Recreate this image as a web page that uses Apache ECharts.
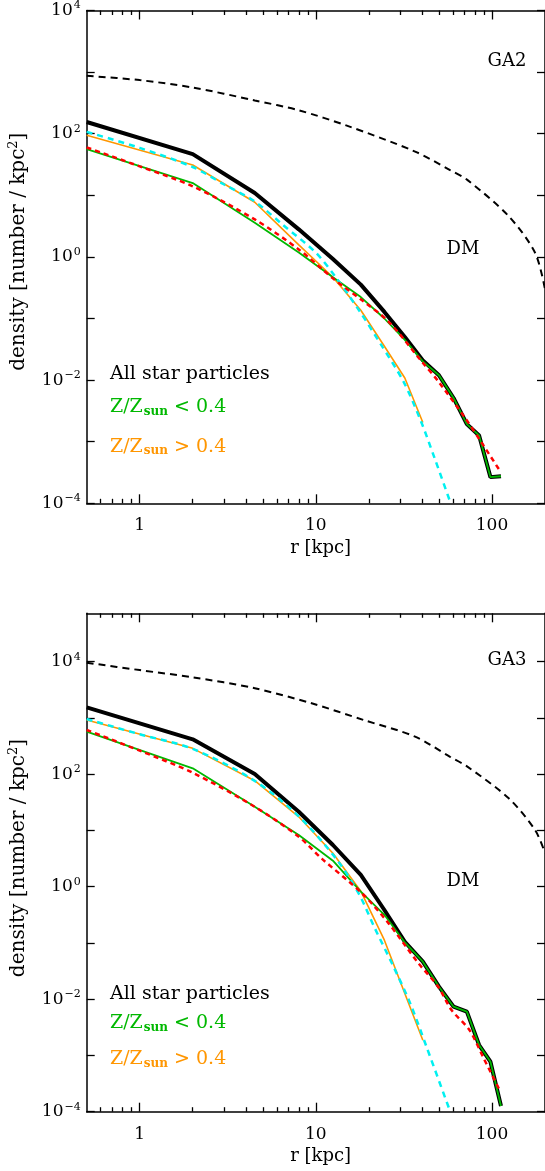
<!DOCTYPE html>
<html><head><meta charset="utf-8">
<script src="https://cdn.jsdelivr.net/npm/echarts@6/dist/echarts.min.js"></script>
<style>html,body{margin:0;padding:0;background:#fff}#c{width:545px;height:1171px}</style>
</head><body><div id="c"></div>
<script>
// ---------- data (r in kpc, density in number / kpc^2) ----------
const rBins = [0.5, 2, 4.5, 8, 12.5, 18, 24.5, 32, 40.5, 50, 60.5, 72, 84.5, 98, 112.5];
const xTickValues = [1, 10, 100];
const yTickExps = [-4, -2, 0, 2, 4];

// GA2
const ga2All  = [155, 46.7, 10.9, 2.80, 0.923, 0.355, 0.128, 0.0501, 0.0209, 0.0120, 0.00513, 0.00193, 0.00126, 0.000266, 0.000275];
const ga2Low  = [56.1, 15.8, 3.59, 1.18, 0.468, 0.223, 0.100, 0.0450, 0.0201, 0.0120, 0.00513, 0.00193, 0.00126, 0.000266, 0.000275];
const ga2High = [94.2, 31.0, 7.71, 1.57, 0.468, 0.136, 0.0355, 0.0108, 0.00205];
const ga2CyanR = [0.5, 1, 2, 3, 4.5, 6.5, 10, 13.2, 17.8, 23.4, 31.4, 39.4, 47.4, 57.8];
const ga2CyanD = [107, 58.9, 28.8, 15.1, 7.94, 3.31, 1.17, 0.437, 0.129, 0.0380, 0.00955, 0.00219, 0.000525, 0.000107];
const ga2RedR = [0.5, 1, 2, 4.5, 8, 12.6, 18.3, 25.9, 39.9, 49.5, 70.1, 87.1, 110.5];
const ga2RedD = [59.8, 29.5, 14.0, 4.06, 1.32, 0.440, 0.197, 0.0885, 0.0201, 0.00959, 0.00247, 0.000977, 0.000343];
const ga2DmR = [0.5, 1, 2, 4.5, 8, 15, 36.6, 57.8, 72.4, 124.5, 175.6, 200];
const ga2DmD = [871, 741, 562, 347, 240, 135, 51.3, 25.7, 17.8, 4.57, 1.17, 0.30];

// GA3
const ga3All  = [1545, 417, 101, 21.5, 5.51, 1.62, 0.385, 0.105, 0.0465, 0.0167, 0.00736, 0.00600, 0.00153, 0.000774, 0.000126];
const ga3Low  = [570, 127, 26.4, 8.30, 2.90, 0.815, 0.316, 0.102, 0.0465, 0.0167, 0.00736, 0.00600, 0.00153, 0.000774, 0.000126];
const ga3High = [920, 288, 76.6, 17.5, 3.92, 0.832, 0.112, 0.0126, 0.00186];
const ga3CyanR = [0.5, 1, 2, 4.5, 8, 13.2, 17.5, 21.7, 27.6, 34.3, 42.4, 57.5];
const ga3CyanD = [955, 513, 282, 75.9, 17.8, 2.99, 0.759, 0.178, 0.0380, 0.00851, 0.00145, 0.000107];
const ga3RedR = [0.5, 1, 2, 4.5, 8, 10.8, 18.3, 25.9, 38.2, 49.5, 58.9, 74.5, 90.7, 110.5];
const ga3RedD = [611, 262, 106, 26.3, 7.74, 3.16, 0.762, 0.223, 0.0435, 0.0167, 0.00641, 0.00283, 0.000830, 0.000243];
const ga3DmR = [0.5, 1, 2, 4.5, 9.46, 18.7, 36.6, 57.8, 72.5, 124.5, 175.6, 200];
const ga3DmD = [9600, 7080, 5280, 3370, 1820, 918, 465, 204, 136, 37.2, 10.2, 3.98];

const panelNames = ['GA2', 'GA3'];
const legendAll = 'All star particles';

// ---------- build ----------
const L = Math.log10;
const pts = (rs, ds) => ds.map((d, i) => [L(rs[i]), L(d)]);
const FONT = 'DejaVu Serif';
const GREEN = '#00b800', ORANGE = '#ff9600', CYAN = '#00f0f0', RED = '#ff0000';

const panels = [
  { top: 5.7, bottom: 667.7, ymax: 4,
    all: ga2All, low: ga2Low, high: ga2High, cR: ga2CyanR, cD: ga2CyanD, rR: ga2RedR, rD: ga2RedD, dR: ga2DmR, dD: ga2DmD },
  { top: 613.3, bottom: 59.3, ymax: 4.86,
    all: ga3All, low: ga3Low, high: ga3High, cR: ga3CyanR, cD: ga3CyanD, rR: ga3RedR, rD: ga3RedD, dR: ga3DmR, dD: ga3DmD }
];

const xMin = L(0.5), xMax = L(200);
const majorX = xTickValues.map(L);
const minorX = [0.6,0.7,0.8,0.9,2,3,4,5,6,7,8,9,20,30,40,50,60,70,80,90].map(L);
const yTicks = [-4,-3,-2,-1,0,1,2,3,4];

const grid = [], xAxis = [], yAxis = [], series = [];
const lineBlack = { color: '#000', width: 1.5 };
const tickStyle = { color: '#000', width: 1.3 };

panels.forEach((p, g) => {
  grid.push({ left: 86.7, right: -2.3, top: p.top, bottom: p.bottom, containLabel: false });
  const mkX = (pos, major) => ({
    gridIndex: g, type: 'value', position: pos, min: xMin, max: xMax,
    axisLine: { show: major, onZero: false, lineStyle: lineBlack },
    axisTick: { show: true, inside: true, length: major ? 9 : 4.5, customValues: major ? majorX : minorX, lineStyle: tickStyle },
    axisLabel: (pos === 'bottom' && major) ? {
      show: true, customValues: majorX, margin: 14, color: '#000',
      fontFamily: FONT, fontSize: 17,
      formatter: v => String(Math.round(Math.pow(10, v)))
    } : { show: false },
    splitLine: { show: false }
  });
  xAxis.push(mkX('bottom', true), mkX('bottom', false), mkX('top', true), mkX('top', false));
  const mkY = (pos) => ({
    gridIndex: g, type: 'value', position: pos, min: -4, max: p.ymax,
    axisLine: { show: true, onZero: false, lineStyle: lineBlack },
    axisTick: { show: true, inside: true, length: 8, customValues: yTicks, lineStyle: tickStyle },
    axisLabel: pos === 'left' ? {
      show: true, customValues: yTickExps, margin: 6, color: '#000',
      formatter: v => '{b|10}{s|' + (v < 0 ? '\u2212' + (-v) : v) + '}',
      rich: {
        b: { fontFamily: FONT, fontSize: 17, color: '#000' },
        s: { fontFamily: FONT, fontSize: 11, color: '#000', padding: [0, 0, 10, 1] }
      }
    } : { show: false },
    splitLine: { show: false }
  });
  yAxis.push(mkY('left'), mkY('right'));

  const xi = g * 4, yi = g * 2;
  const base = { type: 'line', xAxisIndex: xi, yAxisIndex: yi, symbol: 'none', silent: true, animation: false, clip: true };
  series.push(
    Object.assign({}, base, { name: 'DM', data: pts(p.dR, p.dD), smooth: 0.3,
      lineStyle: { color: '#000', width: 2, type: [7, 5] }, z: 2 }),
    Object.assign({}, base, { name: 'all', data: pts(rBins, p.all),
      lineStyle: { color: '#000', width: 4 }, z: 3 }),
    Object.assign({}, base, { name: 'high', data: pts(rBins, p.high),
      lineStyle: { color: ORANGE, width: 1.6 }, z: 4 }),
    Object.assign({}, base, { name: 'low', data: pts(rBins, p.low),
      lineStyle: { color: GREEN, width: 1.8 }, z: 5 }),
    Object.assign({}, base, { name: 'cyan', data: pts(p.cR, p.cD), smooth: 0.3,
      lineStyle: { color: CYAN, width: 2.5, type: [6, 5] }, z: 6 }),
    Object.assign({}, base, { name: 'red', data: pts(p.rR, p.rD), smooth: 0.3,
      lineStyle: { color: RED, width: 2.5, type: [5, 4] }, z: 7 })
  );
});

const txt = (x, y, text, opt) => ({
  type: 'text', x, y, silent: true, z: 100,
  style: Object.assign({ text, font: '19px "' + FONT + '"', fill: '#000', align: 'left', verticalAlign: 'middle' }, opt || {})
});
const zRich = {
  n: { fontFamily: FONT, fontSize: 19 },
  b: { fontFamily: FONT, fontSize: 12, fontWeight: 'bold', padding: [9, 0, 0, 1] }
};
const greenRich = { n: Object.assign({}, zRich.n, { color: GREEN }), b: Object.assign({}, zRich.b, { color: GREEN }) };
const orangeRich = { n: Object.assign({}, zRich.n, { color: ORANGE }), b: Object.assign({}, zRich.b, { color: ORANGE }) };

const graphic = [];
const layout = [
  { tag: 61.7, dm: 249.3, all: 374.3, lo: 407.3, hi: 446.7, rk: 548, yt: 251.7 },
  { tag: 660.7, dm: 881.7, all: 994, lo: 1023.5, hi: 1059.3, rk: 1156.7, yt: 858 }
];
layout.forEach((q, g) => {
  graphic.push(
    txt(507, q.tag, panelNames[g], { align: 'center', font: '18px "' + FONT + '"' }),
    txt(463, q.dm, 'DM', { align: 'center', font: '18px "' + FONT + '"' }),
    txt(110, q.all, legendAll),
    txt(110, q.lo, '{n|Z/Z}{b|sun}{n| < 0.4}', { rich: greenRich, fill: GREEN }),
    txt(110, q.hi, '{n|Z/Z}{b|sun}{n| > 0.4}', { rich: orangeRich, fill: ORANGE }),
    txt(320.7, q.rk, 'r [kpc]', { align: 'center', font: '18px "' + FONT + '"' }),
    { type: 'text', x: 19, y: q.yt, rotation: Math.PI / 2, silent: true, z: 100,
      style: { text: '{n|density [number / kpc}{s|2}{n|]}', align: 'center', verticalAlign: 'middle', fill: '#000',
        rich: { n: { fontFamily: FONT, fontSize: 20, color: '#000' },
                s: { fontFamily: FONT, fontSize: 13, color: '#000', padding: [0, 0, 10, 0] } } } }
  );
});

const chart = echarts.init(document.getElementById('c'), null, { renderer: 'canvas' });
chart.setOption({ animation: false, backgroundColor: '#fff', grid, xAxis, yAxis, series, graphic });
</script></body></html>
